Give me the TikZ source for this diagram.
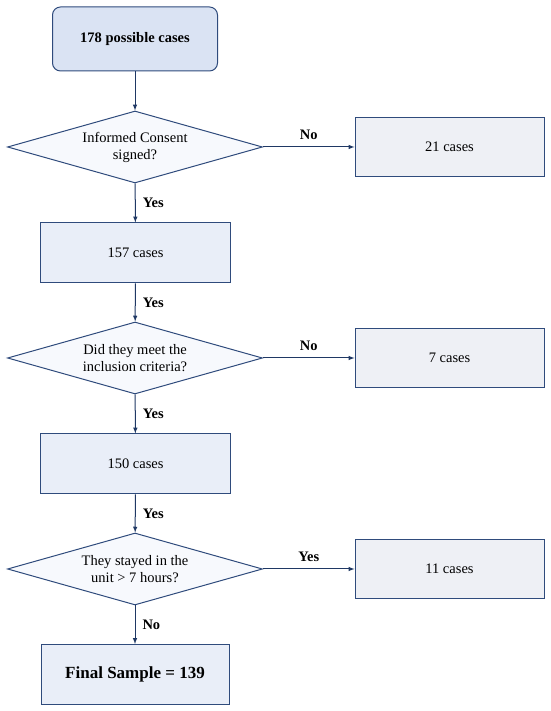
\documentclass[tikz,border=0pt]{standalone}
\usepackage{fontspec}
\setmainfont{LiberationSerif}[Extension=.ttf, UprightFont=*-Regular,
  BoldFont=*-Bold, ItalicFont=*-Italic, BoldItalicFont=*-BoldItalic]
\usetikzlibrary{shapes.geometric}
\definecolor{navy}{HTML}{2F4B7C}
\definecolor{arrownavy}{HTML}{1F3864}
\definecolor{topfill}{HTML}{DAE3F3}
\definecolor{boxfill}{HTML}{E9EEF8}
\definecolor{sidefill}{HTML}{EEF0F5}
\definecolor{decfill}{HTML}{F7F9FD}
\begin{document}
\begin{tikzpicture}[
  x=1pt, y=1pt,
  base/.style={draw=navy, line width=1pt, inner sep=0pt, align=center,
               font=\fontsize{14.5}{17}\selectfont},
  startbox/.style={base, rectangle, rounded corners=8pt, fill=topfill,
                   minimum width=165pt, minimum height=64pt,
                   font=\fontsize{14.5}{17}\selectfont\bfseries},
  decision/.style={base, diamond, aspect=3.5, fill=decfill,
                   minimum width=255pt, minimum height=72pt},
  stepbox/.style={base, rectangle, fill=boxfill,
                  minimum width=190pt, minimum height=60pt},
  outbox/.style={base, rectangle, fill=sidefill,
                 minimum width=189pt, minimum height=59pt},
  finalbox/.style={stepbox, minimum width=188pt,
                   font=\fontsize{17}{20}\selectfont\bfseries},
  flow/.style={->, >=latex, line width=1pt, arrownavy},
  lbl/.style={font=\fontsize{14.5}{17}\selectfont\bfseries, inner sep=0pt,
              text=black},
]
\useasboundingbox (0,0) rectangle (550,711);
% Main column
\node[startbox] (start) at (135, 672) {178 possible cases};
\node[decision] (q1) at (135, 564) {Informed Consent\\signed?};
\node[stepbox] (b157) at (135.5, 458) {157 cases};
\node[decision] (q2) at (135, 353) {Did they meet the\\inclusion criteria?};
\node[stepbox] (b150) at (135.5, 247) {150 cases};
\node[decision] (q3) at (135, 142) {They stayed in the\\unit > 7 hours?};
\node[finalbox] (final) at (135, 36.5) {Final Sample = 139};
% Excluded cases
\node[outbox] (n21) at (449.5, 564) {21 cases};
\node[outbox] (n7) at (449.5, 353) {7 cases};
\node[outbox] (n11) at (449.5, 142) {11 cases};
% Vertical arrows
\draw[flow] (start) -- (q1);
\draw[flow] (q1) -- node[lbl, right=7pt] {Yes} (b157);
\draw[flow] (b157) -- node[lbl, right=7pt] {Yes} (q2);
\draw[flow] (q2) -- node[lbl, right=7pt] {Yes} (b150);
\draw[flow] (b150) -- node[lbl, right=7pt] {Yes} (q3);
\draw[flow] (q3) -- node[lbl, right=7pt] {No} (final);
% Side arrows
\draw[flow] (q1) -- node[lbl, above=7pt] {No} (n21);
\draw[flow] (q2) -- node[lbl, above=7pt] {No} (n7);
\draw[flow] (q3) -- node[lbl, above=7pt] {Yes} (n11);
\end{tikzpicture}
\end{document}
